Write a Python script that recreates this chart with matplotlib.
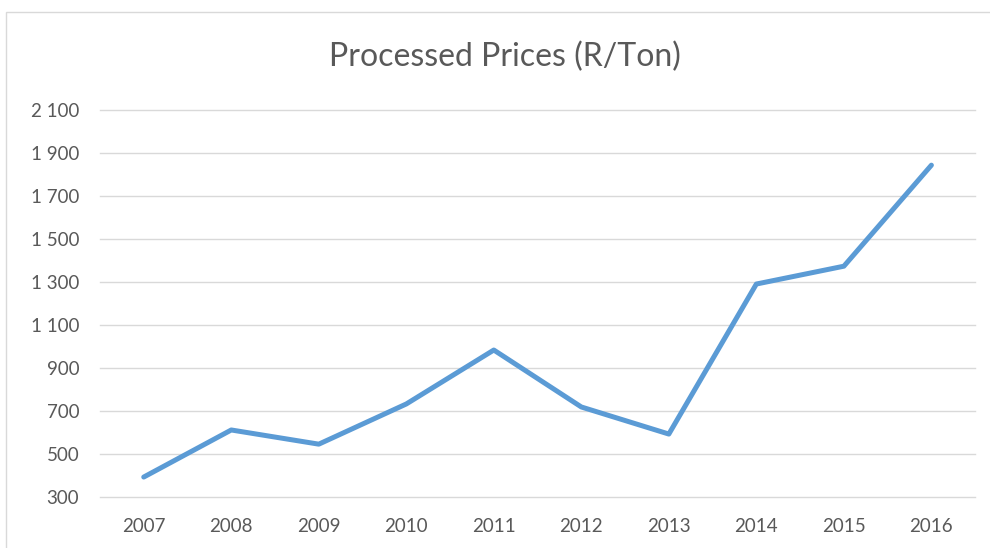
import matplotlib.pyplot as plt
from matplotlib.patches import Rectangle

years = ["2007", "2008", "2009", "2010", "2011", "2012", "2013", "2014", "2015", "2016"]
prices = [393, 612, 546, 733, 984, 719, 593, 1291, 1374, 1844]
y_ticks = [300, 500, 700, 900, 1100, 1300, 1500, 1700, 1900, 2100]

plt.rcParams["font.family"] = ["Lato", "DejaVu Sans"]
text_color = "#595959"

fig = plt.figure(figsize=(9.9, 5.48), dpi=100)
ax = fig.add_axes([0.101, 0.093, 0.884, 0.706])

x = list(range(len(years)))
ax.plot(x, prices, color="#5B9BD5", linewidth=3.6, solid_capstyle="round", solid_joinstyle="round")

ax.set_xlim(-0.5, len(years) - 0.5)
ax.set_ylim(y_ticks[0], y_ticks[-1])
ax.set_xticks(x)
ax.set_xticklabels(years)
ax.set_yticks(y_ticks)
ax.set_yticklabels([f"{v:,}".replace(",", " ") for v in y_ticks])
ax.grid(axis="y", color="#d9d9d9", linewidth=1)
for gl in ax.get_ygridlines():
    gl.set_clip_on(False)
ax.set_axisbelow(True)
ax.tick_params(length=0, labelsize=13.5, colors=text_color)
ax.tick_params(axis="y", pad=15)
ax.tick_params(axis="x", pad=15)
for s in ax.spines.values():
    s.set_visible(False)

fig.text(0.51, 0.897, "Processed Prices (R/Ton)", ha="center", va="center",
         fontsize=23, color=text_color)

# outer chart border
fig.patches.append(Rectangle((0.006, -0.01), 1.2, 0.989, transform=fig.transFigure,
                             fill=False, edgecolor="#d9d9d9", linewidth=1))

plt.savefig("out.png", dpi=100)
plt.close()
